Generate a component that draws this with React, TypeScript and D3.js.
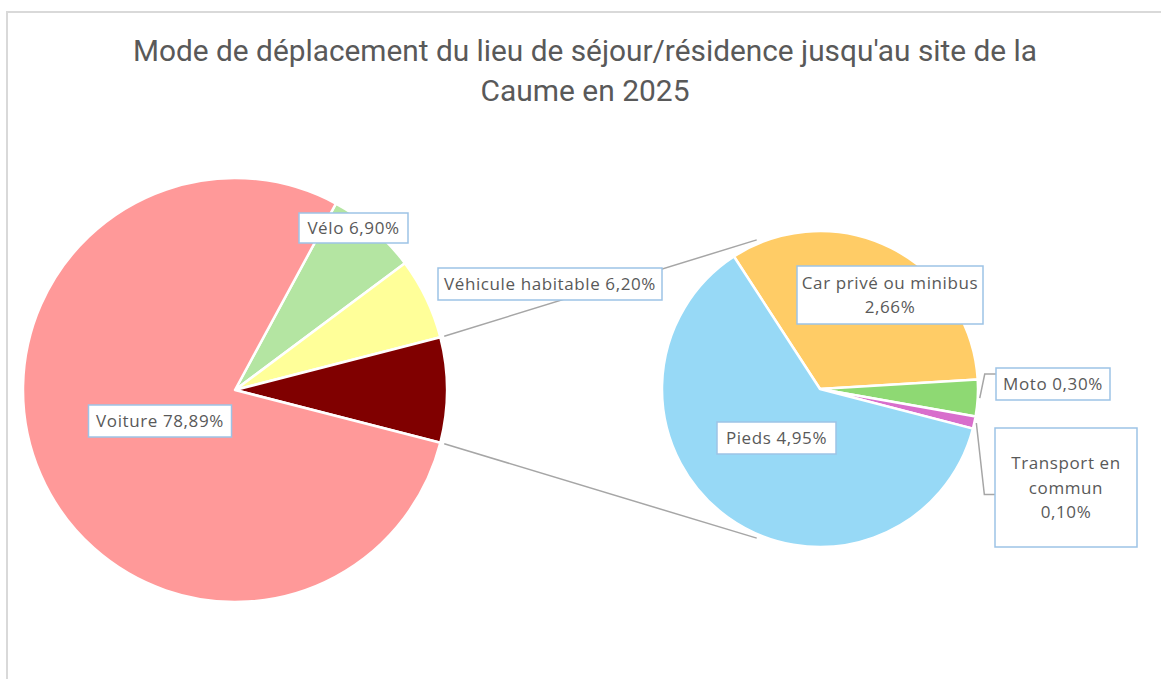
import * as d3 from "d3";

// main pie
const mainCategories = ["Voiture", "Vélo", "Véhicule habitable"];
const mainValues = [78.89, 6.9, 6.2];
const mainColors = ["#FF9999", "#B4E5A2", "#FFFF99"];
const otherColor = "#800000";

// secondary pie (detail of the "other" slice)
const subCategories = ["Car privé ou minibus", "Moto", "Transport en commun", "Pieds"];
const subValues = [2.66, 0.3, 0.1, 4.95];
const subColors = ["#FFCC66", "#8ED973", "#D86ECC", "#97D9F6"];

const titleLines = [
  "Mode de déplacement du lieu de séjour/résidence jusqu'au site de la",
  "Caume en 2025",
];

const W = 1161;
const H = 679;
const mainC = { x: 235, y: 390, r: 212 };
const subC = { x: 820, y: 389, r: 158 };
const subStart = (-33 * Math.PI) / 180;
const linkAngle = (23 * Math.PI) / 180;

// label boxes: offset from the pie centre, size, wrapped lines
const labelLayout: Record<string, { dx: number; dy: number; w: number; h: number; lines?: string[] }> = {
  "Voiture": { dx: -75, dy: 31, w: 143, h: 32 },
  "Vélo": { dx: 118.5, dy: -162, w: 109, h: 30 },
  "Véhicule habitable": { dx: 315, dy: -106, w: 224, h: 32 },
  "Car privé ou minibus": { dx: 70, dy: -94, w: 186, h: 58, lines: ["Car privé ou minibus", "{v}"] },
  "Moto": { dx: 233, dy: -5, w: 114, h: 32 },
  "Transport en commun": { dx: 246, dy: 98.5, w: 142, h: 119, lines: ["Transport en", "commun", "{v}"] },
  "Pieds": { dx: -43.5, dy: 49, w: 119, h: 32 },
};

const fmt = (v: number) => v.toFixed(2).replace(".", ",") + "%";
const pt = (c: { x: number; y: number }, a: number, r: number) => [c.x + r * Math.sin(a), c.y - r * Math.cos(a)];

export default function App() {
  const other = d3.sum(subValues);
  const total = d3.sum(mainValues) + other;
  const k = (2 * Math.PI) / total;

  // clockwise order: Vélo, Véhicule habitable, other, Voiture; other centred on 3 o'clock
  const mainData = [
    { name: mainCategories[1], value: mainValues[1], color: mainColors[1] },
    { name: mainCategories[2], value: mainValues[2], color: mainColors[2] },
    { name: "Autre", value: other, color: otherColor },
    { name: mainCategories[0], value: mainValues[0], color: mainColors[0] },
  ];
  const mainStart = Math.PI / 2 - (other / 2 + mainValues[1] + mainValues[2]) * k;
  const mainArcs = d3
    .pie<any>()
    .sort(null)
    .value((d: any) => d.value)
    .startAngle(mainStart)
    .endAngle(mainStart + 2 * Math.PI)(mainData);

  const subData = subCategories.map((name, i) => ({ name, value: subValues[i], color: subColors[i] }));
  const subArcs = d3
    .pie<any>()
    .sort(null)
    .value((d: any) => d.value)
    .startAngle(subStart)
    .endAngle(subStart + 2 * Math.PI)(subData);

  const mainArc = d3.arc<any>().innerRadius(0).outerRadius(mainC.r);
  const subArc = d3.arc<any>().innerRadius(0).outerRadius(subC.r);

  const otherArc = mainArcs[2];
  const links = [
    [pt(mainC, otherArc.startAngle, mainC.r + 4), pt(subC, -linkAngle, subC.r + 4)],
    [pt(mainC, otherArc.endAngle, mainC.r + 4), pt(subC, Math.PI + linkAngle, subC.r + 4)],
  ];

  const labels: any[] = [];
  mainArcs.forEach((a: any) => {
    if (a.data.name === "Autre") return;
    labels.push({ c: mainC, ...a.data, arc: a });
  });
  subArcs.forEach((a: any) => labels.push({ c: subC, ...a.data, arc: a }));

  // leader lines for the two small slices
  const leaders: string[] = [];
  labels.forEach((l) => {
    const L = labelLayout[l.name];
    const mid = (l.arc.startAngle + l.arc.endAngle) / 2;
    const boxX = l.c.x + L.dx - L.w / 2;
    if (l.name === "Moto") {
      const p = pt(l.c, mid, l.c.r + 2);
      const yy = l.c.y + L.dy - L.h / 2 + 6;
      leaders.push(d3.line()([p as [number, number], [p[0] + 5, yy], [boxX, yy]]) || "");
    }
    if (l.name === "Transport en commun") {
      const p = pt(l.c, mid, l.c.r + 2);
      const yy = l.c.y + L.dy + 7;
      leaders.push(d3.line()([p as [number, number], [p[0] + 8, yy], [boxX, yy]]) || "");
    }
  });

  return (
    <div style={{ position: "absolute", left: 0, top: 0, width: W, height: H, background: "#fff" }}>
      <svg width={W} height={H} style={{ display: "block" }}>
        <rect x={0} y={0} width={W} height={H} fill="#fff" />
        <path d={`M7,${H} V12 H${W}`} fill="none" stroke="#D9D9D9" strokeWidth={2} />

        <g fontFamily="Roboto, sans-serif" fontSize={29} fill="#595959" textAnchor="middle">
          <text x={585} y={61} textLength={904} lengthAdjust="spacingAndGlyphs">
            {titleLines[0]}
          </text>
          <text x={585} y={101} textLength={209} lengthAdjust="spacingAndGlyphs">
            {titleLines[1]}
          </text>
        </g>

        {links.map((l, i) => (
          <line key={i} x1={l[0][0]} y1={l[0][1]} x2={l[1][0]} y2={l[1][1]} stroke="#A6A6A6" strokeWidth={1.5} />
        ))}

        <g transform={`translate(${mainC.x},${mainC.y})`}>
          {mainArcs.map((a: any, i: number) => (
            <path key={i} d={mainArc(a) || ""} fill={a.data.color} stroke="#fff" strokeWidth={2.5} strokeLinejoin="round" />
          ))}
        </g>
        <g transform={`translate(${subC.x},${subC.y})`}>
          {subArcs.map((a: any, i: number) => (
            <path key={i} d={subArc(a) || ""} fill={a.data.color} stroke="#fff" strokeWidth={2.5} strokeLinejoin="round" />
          ))}
        </g>

        {leaders.map((d, i) => (
          <path key={i} d={d} fill="none" stroke="#A6A6A6" strokeWidth={1.5} />
        ))}

        <g fontFamily="'Open Sans', sans-serif" fontSize={17} letterSpacing={0.6} fill="#595959" textAnchor="middle">
          {labels.map((l, i) => {
            const L = labelLayout[l.name];
            const cx = l.c.x + L.dx;
            const cy = l.c.y + L.dy;
            const lines = L.lines
              ? L.lines.map((s) => s.replace("{v}", fmt(l.value)))
              : [`${l.name} ${fmt(l.value)}`];
            const lh = 24.5;
            const y0 = cy - ((lines.length - 1) * lh) / 2;
            return (
              <g key={i}>
                <rect x={cx - L.w / 2} y={cy - L.h / 2} width={L.w} height={L.h} fill="#fff" stroke="#9DC3E6" strokeWidth={1.5} />
                {lines.map((s, j) => (
                  <text key={j} x={cx} y={y0 + j * lh} dy="0.36em">
                    {s}
                  </text>
                ))}
              </g>
            );
          })}
        </g>
      </svg>
    </div>
  );
}
